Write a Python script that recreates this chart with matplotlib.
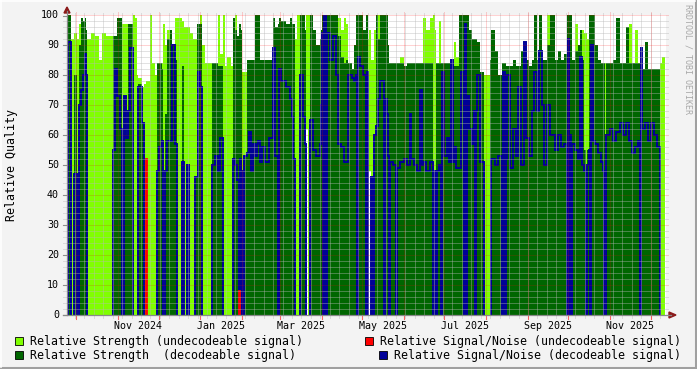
import numpy as np
import pandas as pd
import matplotlib
matplotlib.use("Agg")
import matplotlib.pyplot as plt
import matplotlib.dates as mdates
from matplotlib.patches import Rectangle, Polygon
from matplotlib.lines import Line2D

# ---- data (one sample = 17.8 h, runs of equal values) ----
start = pd.Timestamp("2024-09-24 03:00")
step_hours = 17.8

seg_len = [
    1, 3, 3, 3, 2, 2, 2, 2, 1, 1,
    4, 4, 4, 3, 4, 4, 3,
    2, 2, 3, 2,
    2, 2, 2,
    2, 3,
    2, 2,
    1, 4, 2, 2,
    1,
    3, 2, 3, 2,
    2, 3, 1,
    2, 2,
    3, 2, 3,
    2, 5,
    2, 3, 2, 1,
    3, 2, 2,
    1, 2, 2,
    3, 7,
    3, 3,
    2, 3, 2,
    2, 4, 2,
    2, 2, 2, 1, 1, 1,
    2, 3,
    2, 2, 2, 2, 2, 1,
    2, 2, 3,
    4, 4,
    2, 3, 1,
    2, 5, 4, 2, 1, 2,
    2, 3,
    3, 2, 1,
    2, 2,
    3, 3, 4, 1, 1, 1,
    1, 2, 1, 1,
    2, 3, 3, 2,
    3, 3, 2,
    2, 4, 2, 2,
    1, 1, 2, 3, 3,
    1, 1, 1, 2,
    2, 1, 2,
    2, 2, 3,
    1, 1, 2, 1, 1,
    1, 3, 3,
    1, 3, 4,
    3, 3, 1, 3,
    3, 3, 2, 1,
    3, 4, 3,
    2, 1, 1, 2, 2,
    1, 2, 3, 2, 2, 2, 1,
    2, 3,
    2, 3,
    1, 1, 1,
    2, 3, 2, 1, 1, 1,
    3, 4,
    6,
    1, 4, 3, 4,
    1, 2, 1,
    1, 3, 3, 3, 2, 3,
    3, 2, 3, 3,
    2, 3, 2, 3, 2,
    3, 3, 2,
    3, 3, 3, 3, 3,
    1, 1, 1, 1, 1,
    3, 3, 2, 2, 2,
    2, 1, 2,
    1, 1, 2, 2,
    3, 3, 2, 1, 1, 1, 1,
    3, 3, 3, 4, 3, 3, 3,
    3, 3, 3, 2,
    1, 1,
    3, 3, 3, 3, 3, 3,
    2, 3,
]

# relative strength while the signal could not be decoded
undec_strength = [
    0, 0, 92, 94, 92, 97, 97, 0, 0, 0,
    92, 94, 93, 85, 94, 93, 93,
    0, 0, 97, 97,
    97, 97, 97,
    0, 0,
    100, 99,
    80, 79, 76, 77,
    78,
    78, 100, 84, 80,
    80, 84, 84,
    97, 90,
    95, 0, 0,
    99, 99,
    98, 96, 96, 96,
    94, 92, 92,
    0, 0, 100,
    90, 84,
    84, 84,
    100, 87, 100,
    83, 86, 83,
    0, 100, 0, 0, 0, 0,
    81, 81,
    0, 0, 0, 0, 0, 0,
    0, 0, 0,
    0, 0,
    0, 0, 0,
    0, 0, 0, 0, 0, 0,
    92, 100,
    0, 0, 0,
    100, 100,
    0, 0, 0, 0, 0, 0,
    0, 0, 0, 0,
    0, 0, 0, 0,
    99, 95, 99,
    97, 0, 0, 0,
    0, 0, 0, 0, 0,
    0, 0, 92, 95,
    85, 85, 95,
    0, 100, 0,
    0, 0, 0, 0, 0,
    0, 0, 84,
    0, 0, 86,
    0, 0, 0, 0,
    0, 0, 0, 0,
    99, 95, 99,
    100, 95, 0, 0, 98,
    0, 0, 0, 0, 0, 0, 0,
    91, 86,
    0, 0,
    0, 0, 0,
    0, 0, 0, 0, 0, 0,
    0, 0,
    80,
    0, 0, 0, 0,
    0, 0, 0,
    0, 0, 0, 0, 0, 0,
    0, 0, 0, 0,
    0, 0, 0, 0, 0,
    0, 100, 0,
    0, 0, 0, 0, 0,
    0, 0, 0, 0, 0,
    0, 97, 0, 0, 95,
    94, 94, 92,
    0, 0, 0, 0,
    0, 0, 0, 0, 0, 84, 0,
    0, 0, 0, 0, 0, 0, 0,
    97, 0, 95, 0,
    0, 0,
    0, 0, 0, 0, 0, 0,
    84, 86,
]

# relative strength of the decoded signal
dec_strength = [
    100, 100, 0, 80, 0, 90, 99, 98, 99, 95,
    0, 0, 0, 0, 0, 0, 0,
    93, 93, 99, 99,
    0, 73, 60,
    97, 97,
    0, 0,
    0, 77, 64, 0,
    0,
    0, 0, 0, 0,
    84, 84, 82,
    0, 67,
    92, 95, 90,
    85, 0,
    83, 0, 50, 0,
    0, 0, 46,
    97, 97, 97,
    0, 0,
    84, 84,
    83, 83, 0,
    0, 0, 0,
    99, 95, 93, 97, 97, 95,
    0, 53,
    85, 85, 85, 85, 100, 100,
    100, 85, 85,
    85, 85,
    99, 96, 97,
    99, 98, 97, 99, 97, 97,
    0, 0,
    100, 100, 95,
    0, 0,
    100, 95, 90, 92, 95, 100,
    100, 100, 100, 100,
    100, 100, 100, 100,
    93, 86, 84,
    85, 84, 82, 90,
    100, 100, 100, 100, 95,
    100, 100, 0, 0,
    46, 0, 60,
    100, 92, 100,
    100, 100, 100, 100, 90,
    84, 84, 84,
    84, 84, 84,
    83, 84, 84, 84,
    84, 84, 84, 84,
    84, 84, 84,
    0, 48, 84, 84, 84,
    84, 84, 84, 84, 84, 84, 84,
    83, 83,
    100, 100,
    100, 100, 100,
    100, 95, 92, 92, 92, 92,
    91, 81,
    0,
    85, 95, 88, 80,
    84, 84, 84,
    83, 83, 83, 85, 83, 83,
    88, 90, 85, 83,
    85, 100, 85, 100, 85,
    85, 90, 100,
    100, 85, 88, 85, 87,
    100, 100, 100, 100, 100,
    85, 88, 90, 95, 85,
    55, 0, 55,
    100, 100, 100, 100,
    90, 85, 84, 84, 84, 0, 84,
    84, 84, 85, 99, 84, 84, 96,
    84, 84, 84, 84,
    84, 84,
    82, 91, 82, 82, 82, 82,
    0, 0,
]

# relative signal/noise of the decoded signal
dec_snr = [
    0, 91, 0, 47, 0, 70, 75, 80, 87, 80,
    0, 0, 0, 0, 0, 0, 0,
    55, 82, 73, 62,
    0, 73, 59,
    68, 89,
    0, 0,
    0, 76, 64, 0,
    0,
    0, 0, 0, 0,
    48, 56, 58,
    0, 48,
    58, 58, 90,
    57, 0,
    51, 0, 50, 0,
    0, 0, 46,
    46, 81, 76,
    0, 0,
    50, 53,
    48, 59, 0,
    0, 0, 0,
    52, 50, 45, 0, 52, 48,
    0, 53,
    54, 61, 48, 57, 53, 57,
    58, 51, 56,
    51, 59,
    89, 53, 0,
    82, 78, 76, 72, 66, 52,
    0, 0,
    80, 66, 57,
    0, 0,
    65, 55, 53, 57, 70, 94,
    0, 100, 0, 94,
    94, 85, 93, 80,
    57, 56, 51,
    51, 80, 79, 78,
    80, 0, 86, 83, 80,
    0, 81, 0, 0,
    46, 0, 60,
    63, 72, 78,
    78, 0, 72, 67, 53,
    0, 51, 50,
    0, 49, 51,
    52, 50, 67, 52,
    50, 48, 75, 50,
    51, 48, 51,
    0, 48, 0, 48, 50,
    0, 81, 53, 59, 51, 85, 51,
    56, 49,
    49, 81,
    0, 97, 0,
    73, 62, 57, 68, 0, 68,
    80, 51,
    0,
    0, 52, 50, 53,
    0, 81, 0,
    52, 80, 49, 62, 53, 76,
    50, 91, 59, 53,
    68, 81, 68, 88, 70,
    50, 70, 60,
    60, 55, 60, 56, 57,
    0, 92, 0, 60, 0,
    57, 55, 52, 86, 50,
    48, 0, 50,
    55, 0, 90, 58,
    57, 54, 51, 48, 0, 0, 60,
    60, 62, 58, 61, 64, 60, 64,
    58, 54, 56, 58,
    0, 89,
    62, 64, 58, 64, 60, 56,
    0, 0,
]

# signal/noise of undecodeable signal (sample index, value)
undec_snr_at = [79, 172]
undec_snr_val = [52, 8]

# short outages (sample index, samples, height)
gap_at = [239, 302]
gap_len = [2, 2]
gap_top = [62, 48]

month_labels = ["Nov 2024", "Jan 2025", "Mar 2025", "May 2025",
                "Jul 2025", "Sep 2025", "Nov 2025"]
y_ticks = list(range(0, 101, 10))

assert len(seg_len) == len(undec_strength) == len(dec_strength) == len(dec_snr)

# ---- expand runs ----
L = np.repeat(undec_strength, seg_len).astype(float)
D = np.repeat(dec_strength, seg_len).astype(float)
B = np.repeat(dec_snr, seg_len).astype(float)
n = len(L)
R = np.zeros(n)
for i, v in zip(undec_snr_at, undec_snr_val):
    R[i] = v
G = np.zeros(n)
for i, k, v in zip(gap_at, gap_len, gap_top):
    G[i:i + k] = v

t0 = mdates.date2num(start)
dt = step_hours / 24.0
edges = t0 + np.arange(n + 1) * dt
x_end = t0 + 599 * dt

W, H = 697, 369
LIGHT = "#80ff00"
DARK = "#006600"
BLUE = "#000099"
RED = "#ff0000"
MONO = "DejaVu Sans Mono"

fig = plt.figure(figsize=(W / 100, H / 100), dpi=100)
fig.patch.set_facecolor("#f3f3f3")


def fx(px):
    return px / W


def fy(py):
    return 1 - py / H


ax = fig.add_axes([fx(67), fy(315), fx(666) - fx(67), fy(15) - fy(315)])
ax.set_facecolor("white")
ax.set_xlim(t0, x_end)
ax.set_ylim(0, 100)
for s in ax.spines.values():
    s.set_visible(False)
ax.set_xticks([])
ax.set_yticks([])

ax.stairs(L, edges, fill=True, color=LIGHT, lw=0, zorder=1)
ax.stairs(G, edges, fill=True, color="white", lw=0, zorder=2)
ax.stairs(D, edges, fill=True, color=DARK, lw=0, zorder=3)
ax.stairs(np.where(B > 0, B, -3), edges, baseline=None, color=BLUE, lw=1.4, zorder=4)
ax.stairs(np.where(R > 0, R, -3), edges, baseline=None, color=RED, lw=1.3, zorder=5)

# grid (drawn on top like rrdtool)
dots = (0, (1, 1))
for v in range(2, 101, 2):
    if v % 10:
        ax.plot([-4 / 599, 1 + 2 / 599], [v, v], transform=ax.get_yaxis_transform(),
                color="#b8b8b8", lw=0.72, ls=dots, alpha=0.8, zorder=6, clip_on=False)
    else:
        ax.plot([0, 1 + 2 / 599], [v, v], transform=ax.get_yaxis_transform(),
                color="#ff0000", lw=0.72, ls=dots, alpha=0.35, zorder=7, clip_on=False)

end_date = mdates.num2date(x_end).replace(tzinfo=None)
for d in pd.date_range(start.normalize(), end_date, freq="W-MON"):
    xd = mdates.date2num(d)
    if xd > t0:
        ax.plot([xd, xd], [-1, 101], color="#b8b8b8", lw=0.72, ls=dots,
                alpha=0.8, zorder=6, clip_on=False)
for d in pd.date_range("2024-10-01", end_date, freq="MS"):
    xd = mdates.date2num(d)
    ax.plot([xd, xd], [-1.2, 101], color="#ff0000", lw=0.72, ls=dots,
            alpha=0.35, zorder=7, clip_on=False)
    ax.plot([xd, xd], [-1.2, 0], color="#ff0000", lw=0.8, alpha=0.5,
            zorder=7, clip_on=False)

# month labels centred on the month
for lab in month_labels:
    m0 = pd.Timestamp(pd.to_datetime(lab, format="%b %Y"))
    m1 = m0 + pd.offsets.MonthBegin(1)
    xm = (mdates.date2num(m0) + mdates.date2num(m1)) / 2
    ax.text(xm, -2.0, lab, ha="center", va="top", fontsize=7.2,
            family=MONO, color="black", clip_on=False)

# y labels and ticks
for v in y_ticks:
    yy = fy(315 - v * 2.995)
    fig.text(fx(59), yy, str(v), ha="right", va="center", fontsize=7.2, family=MONO)
    fig.add_artist(Line2D([fx(63), fx(67)], [yy, yy], color="#909090", lw=0.8))

# axes lines and arrows
fig.add_artist(Line2D([fx(67), fx(67)], [fy(315), fy(11)], color="#8a8a8a", lw=0.9))
fig.add_artist(Line2D([fx(63), fx(671)], [fy(315), fy(315)], color="#8a8a8a", lw=0.9))
fig.add_artist(Polygon([[fx(64), fy(13)], [fx(70), fy(13)], [fx(67), fy(7)]],
                       closed=True, color="#8b1a1a", transform=fig.transFigure))
fig.add_artist(Polygon([[fx(669), fy(312)], [fx(669), fy(318)], [fx(676), fy(315)]],
                       closed=True, color="#8b1a1a", transform=fig.transFigure))

fig.text(fx(12), fy(165), "Relative Quality", rotation=90, ha="center", va="center",
         fontsize=8.4, family=MONO)
fig.text(fx(688), fy(4), "RRDTOOL / TOBI OETIKER", rotation=270, ha="center", va="top",
         fontsize=6.0, family=MONO, color="#a8a8a8")

# legend
legend = [
    (15, 337, LIGHT, 30, "Relative Strength (undecodeable signal)"),
    (15, 351, DARK, 30, "Relative Strength  (decodeable signal)"),
    (365, 337, RED, 380, "Relative Signal/Noise (undecodeable signal)"),
    (379, 351, BLUE, 394, "Relative Signal/Noise (decodeable signal)"),
]
for bx, by, col, tx, lab in legend:
    fig.add_artist(Rectangle((fx(bx), fy(by + 8)), fx(8), 8 / H, facecolor=col,
                             edgecolor="black", lw=0.6, transform=fig.transFigure))
    fig.text(fx(tx), fy(by + 4.5), lab, ha="left", va="center", fontsize=8.4, family=MONO)

# frame shading
fig.add_artist(Line2D([0, 1], [fy(368), fy(368)], color="#a0a0a0", lw=2.2))
fig.add_artist(Line2D([fx(696), fx(696)], [0, 1], color="#a0a0a0", lw=2.2))
fig.add_artist(Line2D([0, fx(695)], [fy(0.5), fy(0.5)], color="white", lw=1.2))
fig.add_artist(Line2D([fx(0.5), fx(0.5)], [fy(367), 1], color="white", lw=1.2))

fig.savefig("out.png", dpi=100, facecolor=fig.get_facecolor())
